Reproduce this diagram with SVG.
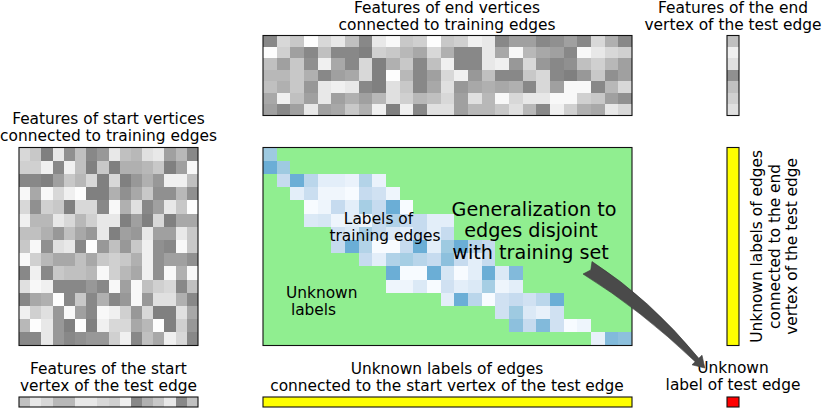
<svg xmlns="http://www.w3.org/2000/svg" width="822" height="409" viewBox="0 0 822 409">
<style>
text{font-family:"DejaVu Sans","Liberation Sans",sans-serif;font-size:15.4px;fill:#000}
.big{font-size:19.2px}
.mid{text-anchor:middle}
.frame{fill:none;stroke:#111;stroke-width:1.1}
.cells rect{shape-rendering:crispEdges}
.g80{fill:#808080}.g88{fill:#888}.g90{fill:#909090}.g98{fill:#989898}.ga0{fill:#a0a0a0}.ga8{fill:#a8a8a8}.gb0{fill:#b0b0b0}.gb8{fill:#b8b8b8}.gc0{fill:#c0c0c0}.gc8{fill:#c8c8c8}.gd0{fill:#d0d0d0}.gd8{fill:#d8d8d8}.ge0{fill:#e0e0e0}.ge8{fill:#e8e8e8}.gf0{fill:#f0f0f0}.gf8{fill:#f8f8f8}.gff{fill:#fdfdfd}
.arrow{fill:#4a4a4a;stroke:#3a3a3a;stroke-width:0.6}
</style>

<g id="end-features">
<text class="mid" x="447" y="12.5">Features of end vertices</text>
<text class="mid" x="447" y="29.5">connected to training edges</text>
<g class="cells" transform="translate(263,35.5) scale(13.667,11.4286)">
<rect x="0" y="0" width="1" height="1" class="g88"/><rect x="1" y="0" width="1" height="1" class="gd8"/><rect x="2" y="0" width="1" height="1" class="gc8"/><rect x="3" y="0" width="1" height="1" class="gff"/><rect x="4" y="0" width="1" height="1" class="gd8"/><rect x="5" y="0" width="1" height="1" class="ge8"/><rect x="6" y="0" width="1" height="1" class="gc0"/><rect x="7" y="0" width="1" height="1" class="g88"/><rect x="8" y="0" width="1" height="1" class="ge8"/><rect x="9" y="0" width="1" height="1" class="gf8"/><rect x="10" y="0" width="1" height="1" class="gc8"/><rect x="11" y="0" width="1" height="1" class="gd0"/><rect x="12" y="0" width="1" height="1" class="gff"/><rect x="13" y="0" width="1" height="1" class="gc8"/><rect x="14" y="0" width="1" height="1" class="gd0"/><rect x="15" y="0" width="1" height="1" class="gf0"/><rect x="16" y="0" width="1" height="1" class="ge8"/><rect x="17" y="0" width="1" height="1" class="g88"/><rect x="18" y="0" width="1" height="1" class="ga0"/><rect x="19" y="0" width="1" height="1" class="ga0"/><rect x="20" y="0" width="1" height="1" class="g88"/><rect x="21" y="0" width="1" height="1" class="g90"/><rect x="22" y="0" width="1" height="1" class="ga0"/><rect x="23" y="0" width="1" height="1" class="g88"/><rect x="24" y="0" width="1" height="1" class="gd8"/><rect x="25" y="0" width="1" height="1" class="gb0"/><rect x="26" y="0" width="1" height="1" class="g88"/>
<rect x="0" y="1" width="1" height="1" class="gff"/><rect x="1" y="1" width="1" height="1" class="gd0"/><rect x="2" y="1" width="1" height="1" class="ga0"/><rect x="3" y="1" width="1" height="1" class="g88"/><rect x="4" y="1" width="1" height="1" class="gc0"/><rect x="5" y="1" width="1" height="1" class="g88"/><rect x="6" y="1" width="1" height="1" class="g88"/><rect x="7" y="1" width="1" height="1" class="g80"/><rect x="8" y="1" width="1" height="1" class="gd0"/><rect x="9" y="1" width="1" height="1" class="gc8"/><rect x="10" y="1" width="1" height="1" class="gb8"/><rect x="11" y="1" width="1" height="1" class="ga8"/><rect x="12" y="1" width="1" height="1" class="gd8"/><rect x="13" y="1" width="1" height="1" class="gb0"/><rect x="14" y="1" width="1" height="1" class="g88"/><rect x="15" y="1" width="1" height="1" class="g88"/><rect x="16" y="1" width="1" height="1" class="ge8"/><rect x="17" y="1" width="1" height="1" class="ga8"/><rect x="18" y="1" width="1" height="1" class="gf8"/><rect x="19" y="1" width="1" height="1" class="gb8"/><rect x="20" y="1" width="1" height="1" class="ga8"/><rect x="21" y="1" width="1" height="1" class="ga0"/><rect x="22" y="1" width="1" height="1" class="g88"/><rect x="23" y="1" width="1" height="1" class="gf8"/><rect x="24" y="1" width="1" height="1" class="ge8"/><rect x="25" y="1" width="1" height="1" class="gd8"/><rect x="26" y="1" width="1" height="1" class="gd0"/>
<rect x="0" y="2" width="1" height="1" class="gc0"/><rect x="1" y="2" width="1" height="1" class="ga0"/><rect x="2" y="2" width="1" height="1" class="gc8"/><rect x="3" y="2" width="1" height="1" class="g90"/><rect x="4" y="2" width="1" height="1" class="gf0"/><rect x="5" y="2" width="1" height="1" class="ga8"/><rect x="6" y="2" width="1" height="1" class="g88"/><rect x="7" y="2" width="1" height="1" class="gd8"/><rect x="8" y="2" width="1" height="1" class="g80"/><rect x="9" y="2" width="1" height="1" class="gb0"/><rect x="10" y="2" width="1" height="1" class="gc8"/><rect x="11" y="2" width="1" height="1" class="g88"/><rect x="12" y="2" width="1" height="1" class="gc0"/><rect x="13" y="2" width="1" height="1" class="gf0"/><rect x="14" y="2" width="1" height="1" class="g88"/><rect x="15" y="2" width="1" height="1" class="g88"/><rect x="16" y="2" width="1" height="1" class="ge8"/><rect x="17" y="2" width="1" height="1" class="gf0"/><rect x="18" y="2" width="1" height="1" class="g98"/><rect x="19" y="2" width="1" height="1" class="gd8"/><rect x="20" y="2" width="1" height="1" class="g98"/><rect x="21" y="2" width="1" height="1" class="g88"/><rect x="22" y="2" width="1" height="1" class="g90"/><rect x="23" y="2" width="1" height="1" class="gc0"/><rect x="24" y="2" width="1" height="1" class="gd0"/><rect x="25" y="2" width="1" height="1" class="gb8"/><rect x="26" y="2" width="1" height="1" class="ga0"/>
<rect x="0" y="3" width="1" height="1" class="gb8"/><rect x="1" y="3" width="1" height="1" class="gb8"/><rect x="2" y="3" width="1" height="1" class="gc8"/><rect x="3" y="3" width="1" height="1" class="gb0"/><rect x="4" y="3" width="1" height="1" class="g88"/><rect x="5" y="3" width="1" height="1" class="ga0"/><rect x="6" y="3" width="1" height="1" class="ga8"/><rect x="7" y="3" width="1" height="1" class="gd8"/><rect x="8" y="3" width="1" height="1" class="g80"/><rect x="9" y="3" width="1" height="1" class="gff"/><rect x="10" y="3" width="1" height="1" class="gb8"/><rect x="11" y="3" width="1" height="1" class="g88"/><rect x="12" y="3" width="1" height="1" class="ga0"/><rect x="13" y="3" width="1" height="1" class="gd8"/><rect x="14" y="3" width="1" height="1" class="gf0"/><rect x="15" y="3" width="1" height="1" class="g98"/><rect x="16" y="3" width="1" height="1" class="gc0"/><rect x="17" y="3" width="1" height="1" class="g88"/><rect x="18" y="3" width="1" height="1" class="g88"/><rect x="19" y="3" width="1" height="1" class="gc8"/><rect x="20" y="3" width="1" height="1" class="gd8"/><rect x="21" y="3" width="1" height="1" class="g88"/><rect x="22" y="3" width="1" height="1" class="g80"/><rect x="23" y="3" width="1" height="1" class="g98"/><rect x="24" y="3" width="1" height="1" class="gc8"/><rect x="25" y="3" width="1" height="1" class="g90"/><rect x="26" y="3" width="1" height="1" class="ga0"/>
<rect x="0" y="4" width="1" height="1" class="gc0"/><rect x="1" y="4" width="1" height="1" class="gb0"/><rect x="2" y="4" width="1" height="1" class="gc8"/><rect x="3" y="4" width="1" height="1" class="g98"/><rect x="4" y="4" width="1" height="1" class="ge8"/><rect x="5" y="4" width="1" height="1" class="gf0"/><rect x="6" y="4" width="1" height="1" class="ge8"/><rect x="7" y="4" width="1" height="1" class="g88"/><rect x="8" y="4" width="1" height="1" class="g80"/><rect x="9" y="4" width="1" height="1" class="ge0"/><rect x="10" y="4" width="1" height="1" class="gc8"/><rect x="11" y="4" width="1" height="1" class="g88"/><rect x="12" y="4" width="1" height="1" class="ga8"/><rect x="13" y="4" width="1" height="1" class="ge0"/><rect x="14" y="4" width="1" height="1" class="g98"/><rect x="15" y="4" width="1" height="1" class="ga8"/><rect x="16" y="4" width="1" height="1" class="gb0"/><rect x="17" y="4" width="1" height="1" class="ga8"/><rect x="18" y="4" width="1" height="1" class="gb0"/><rect x="19" y="4" width="1" height="1" class="g88"/><rect x="20" y="4" width="1" height="1" class="gd8"/><rect x="21" y="4" width="1" height="1" class="ga0"/><rect x="22" y="4" width="1" height="1" class="gf8"/><rect x="23" y="4" width="1" height="1" class="gf8"/><rect x="24" y="4" width="1" height="1" class="g88"/><rect x="25" y="4" width="1" height="1" class="gb8"/><rect x="26" y="4" width="1" height="1" class="gd8"/>
<rect x="0" y="5" width="1" height="1" class="ga8"/><rect x="1" y="5" width="1" height="1" class="gf0"/><rect x="2" y="5" width="1" height="1" class="gc0"/><rect x="3" y="5" width="1" height="1" class="ga0"/><rect x="4" y="5" width="1" height="1" class="ge8"/><rect x="5" y="5" width="1" height="1" class="ga0"/><rect x="6" y="5" width="1" height="1" class="gb0"/><rect x="7" y="5" width="1" height="1" class="ga0"/><rect x="8" y="5" width="1" height="1" class="gb8"/><rect x="9" y="5" width="1" height="1" class="ge0"/><rect x="10" y="5" width="1" height="1" class="gd0"/><rect x="11" y="5" width="1" height="1" class="gb8"/><rect x="12" y="5" width="1" height="1" class="gc0"/><rect x="13" y="5" width="1" height="1" class="gd8"/><rect x="14" y="5" width="1" height="1" class="ga0"/><rect x="15" y="5" width="1" height="1" class="ge0"/><rect x="16" y="5" width="1" height="1" class="gb8"/><rect x="17" y="5" width="1" height="1" class="gf8"/><rect x="18" y="5" width="1" height="1" class="gd8"/><rect x="19" y="5" width="1" height="1" class="ge8"/><rect x="20" y="5" width="1" height="1" class="ge8"/><rect x="21" y="5" width="1" height="1" class="gf8"/><rect x="22" y="5" width="1" height="1" class="gf8"/><rect x="23" y="5" width="1" height="1" class="gd0"/><rect x="24" y="5" width="1" height="1" class="gc8"/><rect x="25" y="5" width="1" height="1" class="ga0"/><rect x="26" y="5" width="1" height="1" class="g90"/>
<rect x="0" y="6" width="1" height="1" class="ga0"/><rect x="1" y="6" width="1" height="1" class="g88"/><rect x="2" y="6" width="1" height="1" class="ga0"/><rect x="3" y="6" width="1" height="1" class="ge8"/><rect x="4" y="6" width="1" height="1" class="ga0"/><rect x="5" y="6" width="1" height="1" class="ga8"/><rect x="6" y="6" width="1" height="1" class="gc8"/><rect x="7" y="6" width="1" height="1" class="gb0"/><rect x="8" y="6" width="1" height="1" class="gf0"/><rect x="9" y="6" width="1" height="1" class="g80"/><rect x="10" y="6" width="1" height="1" class="gf0"/><rect x="11" y="6" width="1" height="1" class="g88"/><rect x="12" y="6" width="1" height="1" class="ge0"/><rect x="13" y="6" width="1" height="1" class="ge0"/><rect x="14" y="6" width="1" height="1" class="ga0"/><rect x="15" y="6" width="1" height="1" class="gb8"/><rect x="16" y="6" width="1" height="1" class="gb8"/><rect x="17" y="6" width="1" height="1" class="gc8"/><rect x="18" y="6" width="1" height="1" class="ge0"/><rect x="19" y="6" width="1" height="1" class="gb8"/><rect x="20" y="6" width="1" height="1" class="g88"/><rect x="21" y="6" width="1" height="1" class="gf0"/><rect x="22" y="6" width="1" height="1" class="gd0"/><rect x="23" y="6" width="1" height="1" class="gb0"/><rect x="24" y="6" width="1" height="1" class="ga8"/><rect x="25" y="6" width="1" height="1" class="ge8"/><rect x="26" y="6" width="1" height="1" class="gd8"/>
</g>
<rect class="frame" x="263" y="35.5" width="369" height="80"/>
</g>

<g id="end-vertex-features">
<text class="mid" x="733" y="12.5">Features of the end</text>
<text class="mid" x="733" y="29.5">vertex of the test edge</text>
<g class="cells" transform="translate(727,35.5) scale(12,11.4286)">
<rect x="0" y="0" width="1" height="1" class="gc0"/><rect x="0" y="1" width="1" height="1" class="gf0"/><rect x="0" y="2" width="1" height="1" class="ge0"/><rect x="0" y="3" width="1" height="1" class="g90"/><rect x="0" y="4" width="1" height="1" class="gc0"/><rect x="0" y="5" width="1" height="1" class="gd0"/><rect x="0" y="6" width="1" height="1" class="ge0"/>
</g>
<rect class="frame" x="727" y="35.5" width="12" height="80"/>
</g>

<g id="start-features">
<text class="mid" x="108.5" y="124">Features of start vertices</text>
<text class="mid" x="108.5" y="141">connected to training edges</text>
<g class="cells" transform="translate(19,147.5) scale(11.1875,13.2)">
<rect x="0" y="0" width="1" height="1" class="gd8"/><rect x="1" y="0" width="1" height="1" class="gc8"/><rect x="2" y="0" width="1" height="1" class="g80"/><rect x="3" y="0" width="1" height="1" class="ge8"/><rect x="4" y="0" width="1" height="1" class="g90"/><rect x="5" y="0" width="1" height="1" class="gc0"/><rect x="6" y="0" width="1" height="1" class="g88"/><rect x="7" y="0" width="1" height="1" class="g98"/><rect x="8" y="0" width="1" height="1" class="ge8"/><rect x="9" y="0" width="1" height="1" class="gc0"/><rect x="10" y="0" width="1" height="1" class="gb8"/><rect x="11" y="0" width="1" height="1" class="ge0"/><rect x="12" y="0" width="1" height="1" class="ge8"/><rect x="13" y="0" width="1" height="1" class="ga0"/><rect x="14" y="0" width="1" height="1" class="gb8"/><rect x="15" y="0" width="1" height="1" class="g88"/>
<rect x="0" y="1" width="1" height="1" class="gd0"/><rect x="1" y="1" width="1" height="1" class="gd0"/><rect x="2" y="1" width="1" height="1" class="gf0"/><rect x="3" y="1" width="1" height="1" class="g88"/><rect x="4" y="1" width="1" height="1" class="gf0"/><rect x="5" y="1" width="1" height="1" class="gc0"/><rect x="6" y="1" width="1" height="1" class="g80"/><rect x="7" y="1" width="1" height="1" class="gc8"/><rect x="8" y="1" width="1" height="1" class="g80"/><rect x="9" y="1" width="1" height="1" class="gb0"/><rect x="10" y="1" width="1" height="1" class="gb0"/><rect x="11" y="1" width="1" height="1" class="gb8"/><rect x="12" y="1" width="1" height="1" class="gc8"/><rect x="13" y="1" width="1" height="1" class="g80"/><rect x="14" y="1" width="1" height="1" class="ga0"/><rect x="15" y="1" width="1" height="1" class="gf8"/>
<rect x="0" y="2" width="1" height="1" class="g88"/><rect x="1" y="2" width="1" height="1" class="g88"/><rect x="2" y="2" width="1" height="1" class="g80"/><rect x="3" y="2" width="1" height="1" class="ga0"/><rect x="4" y="2" width="1" height="1" class="gc8"/><rect x="5" y="2" width="1" height="1" class="gb8"/><rect x="6" y="2" width="1" height="1" class="gd8"/><rect x="7" y="2" width="1" height="1" class="g80"/><rect x="8" y="2" width="1" height="1" class="gd8"/><rect x="9" y="2" width="1" height="1" class="g80"/><rect x="10" y="2" width="1" height="1" class="g98"/><rect x="11" y="2" width="1" height="1" class="gb0"/><rect x="12" y="2" width="1" height="1" class="g98"/><rect x="13" y="2" width="1" height="1" class="gf0"/><rect x="14" y="2" width="1" height="1" class="gf0"/><rect x="15" y="2" width="1" height="1" class="gc0"/>
<rect x="0" y="3" width="1" height="1" class="gf8"/><rect x="1" y="3" width="1" height="1" class="ga8"/><rect x="2" y="3" width="1" height="1" class="gf8"/><rect x="3" y="3" width="1" height="1" class="gd8"/><rect x="4" y="3" width="1" height="1" class="gf0"/><rect x="5" y="3" width="1" height="1" class="gff"/><rect x="6" y="3" width="1" height="1" class="g80"/><rect x="7" y="3" width="1" height="1" class="g80"/><rect x="8" y="3" width="1" height="1" class="gb0"/><rect x="9" y="3" width="1" height="1" class="g90"/><rect x="10" y="3" width="1" height="1" class="ga8"/><rect x="11" y="3" width="1" height="1" class="gc8"/><rect x="12" y="3" width="1" height="1" class="g90"/><rect x="13" y="3" width="1" height="1" class="g90"/><rect x="14" y="3" width="1" height="1" class="gb8"/><rect x="15" y="3" width="1" height="1" class="g90"/>
<rect x="0" y="4" width="1" height="1" class="gd8"/><rect x="1" y="4" width="1" height="1" class="g90"/><rect x="2" y="4" width="1" height="1" class="gd0"/><rect x="3" y="4" width="1" height="1" class="gc8"/><rect x="4" y="4" width="1" height="1" class="g80"/><rect x="5" y="4" width="1" height="1" class="gd8"/><rect x="6" y="4" width="1" height="1" class="gd8"/><rect x="7" y="4" width="1" height="1" class="g88"/><rect x="8" y="4" width="1" height="1" class="gf8"/><rect x="9" y="4" width="1" height="1" class="gb0"/><rect x="10" y="4" width="1" height="1" class="ge0"/><rect x="11" y="4" width="1" height="1" class="g88"/><rect x="12" y="4" width="1" height="1" class="ga0"/><rect x="13" y="4" width="1" height="1" class="ge8"/><rect x="14" y="4" width="1" height="1" class="gc8"/><rect x="15" y="4" width="1" height="1" class="gff"/>
<rect x="0" y="5" width="1" height="1" class="gf0"/><rect x="1" y="5" width="1" height="1" class="gb8"/><rect x="2" y="5" width="1" height="1" class="gb8"/><rect x="3" y="5" width="1" height="1" class="ge8"/><rect x="4" y="5" width="1" height="1" class="gd8"/><rect x="5" y="5" width="1" height="1" class="gb8"/><rect x="6" y="5" width="1" height="1" class="gd0"/><rect x="7" y="5" width="1" height="1" class="ge8"/><rect x="8" y="5" width="1" height="1" class="ge8"/><rect x="9" y="5" width="1" height="1" class="g80"/><rect x="10" y="5" width="1" height="1" class="ga0"/><rect x="11" y="5" width="1" height="1" class="g80"/><rect x="12" y="5" width="1" height="1" class="gd8"/><rect x="13" y="5" width="1" height="1" class="g80"/><rect x="14" y="5" width="1" height="1" class="ga8"/><rect x="15" y="5" width="1" height="1" class="ga8"/>
<rect x="0" y="6" width="1" height="1" class="gc0"/><rect x="1" y="6" width="1" height="1" class="gc0"/><rect x="2" y="6" width="1" height="1" class="gb0"/><rect x="3" y="6" width="1" height="1" class="g98"/><rect x="4" y="6" width="1" height="1" class="gc0"/><rect x="5" y="6" width="1" height="1" class="ga8"/><rect x="6" y="6" width="1" height="1" class="g98"/><rect x="7" y="6" width="1" height="1" class="ge8"/><rect x="8" y="6" width="1" height="1" class="g80"/><rect x="9" y="6" width="1" height="1" class="ga0"/><rect x="10" y="6" width="1" height="1" class="g98"/><rect x="11" y="6" width="1" height="1" class="ge8"/><rect x="12" y="6" width="1" height="1" class="ga0"/><rect x="13" y="6" width="1" height="1" class="ga0"/><rect x="14" y="6" width="1" height="1" class="ge8"/><rect x="15" y="6" width="1" height="1" class="gc8"/>
<rect x="0" y="7" width="1" height="1" class="gc8"/><rect x="1" y="7" width="1" height="1" class="gf8"/><rect x="2" y="7" width="1" height="1" class="g90"/><rect x="3" y="7" width="1" height="1" class="ge0"/><rect x="4" y="7" width="1" height="1" class="ge8"/><rect x="5" y="7" width="1" height="1" class="g88"/><rect x="6" y="7" width="1" height="1" class="gff"/><rect x="7" y="7" width="1" height="1" class="g98"/><rect x="8" y="7" width="1" height="1" class="gc0"/><rect x="9" y="7" width="1" height="1" class="g98"/><rect x="10" y="7" width="1" height="1" class="gc8"/><rect x="11" y="7" width="1" height="1" class="gf0"/><rect x="12" y="7" width="1" height="1" class="g90"/><rect x="13" y="7" width="1" height="1" class="g88"/><rect x="14" y="7" width="1" height="1" class="gf8"/><rect x="15" y="7" width="1" height="1" class="gc8"/>
<rect x="0" y="8" width="1" height="1" class="gf8"/><rect x="1" y="8" width="1" height="1" class="gd0"/><rect x="2" y="8" width="1" height="1" class="gb8"/><rect x="3" y="8" width="1" height="1" class="ga8"/><rect x="4" y="8" width="1" height="1" class="ga8"/><rect x="5" y="8" width="1" height="1" class="gc0"/><rect x="6" y="8" width="1" height="1" class="ga8"/><rect x="7" y="8" width="1" height="1" class="gc8"/><rect x="8" y="8" width="1" height="1" class="gd0"/><rect x="9" y="8" width="1" height="1" class="gc8"/><rect x="10" y="8" width="1" height="1" class="gb0"/><rect x="11" y="8" width="1" height="1" class="gf0"/><rect x="12" y="8" width="1" height="1" class="g90"/><rect x="13" y="8" width="1" height="1" class="ga0"/><rect x="14" y="8" width="1" height="1" class="ga0"/><rect x="15" y="8" width="1" height="1" class="g90"/>
<rect x="0" y="9" width="1" height="1" class="g88"/><rect x="1" y="9" width="1" height="1" class="gf0"/><rect x="2" y="9" width="1" height="1" class="g88"/><rect x="3" y="9" width="1" height="1" class="gc8"/><rect x="4" y="9" width="1" height="1" class="gc0"/><rect x="5" y="9" width="1" height="1" class="gc0"/><rect x="6" y="9" width="1" height="1" class="gb8"/><rect x="7" y="9" width="1" height="1" class="gf8"/><rect x="8" y="9" width="1" height="1" class="gd0"/><rect x="9" y="9" width="1" height="1" class="gb8"/><rect x="10" y="9" width="1" height="1" class="ga8"/><rect x="11" y="9" width="1" height="1" class="gf0"/><rect x="12" y="9" width="1" height="1" class="g90"/><rect x="13" y="9" width="1" height="1" class="gf8"/><rect x="14" y="9" width="1" height="1" class="gb0"/><rect x="15" y="9" width="1" height="1" class="gf8"/>
<rect x="0" y="10" width="1" height="1" class="ge0"/><rect x="1" y="10" width="1" height="1" class="gf8"/><rect x="2" y="10" width="1" height="1" class="gf0"/><rect x="3" y="10" width="1" height="1" class="g88"/><rect x="4" y="10" width="1" height="1" class="g88"/><rect x="5" y="10" width="1" height="1" class="g88"/><rect x="6" y="10" width="1" height="1" class="g98"/><rect x="7" y="10" width="1" height="1" class="g88"/><rect x="8" y="10" width="1" height="1" class="gf8"/><rect x="9" y="10" width="1" height="1" class="ga0"/><rect x="10" y="10" width="1" height="1" class="gf8"/><rect x="11" y="10" width="1" height="1" class="gc0"/><rect x="12" y="10" width="1" height="1" class="gd0"/><rect x="13" y="10" width="1" height="1" class="gd8"/><rect x="14" y="10" width="1" height="1" class="g88"/><rect x="15" y="10" width="1" height="1" class="gc0"/>
<rect x="0" y="11" width="1" height="1" class="g88"/><rect x="1" y="11" width="1" height="1" class="ga8"/><rect x="2" y="11" width="1" height="1" class="gb0"/><rect x="3" y="11" width="1" height="1" class="gff"/><rect x="4" y="11" width="1" height="1" class="g88"/><rect x="5" y="11" width="1" height="1" class="gc8"/><rect x="6" y="11" width="1" height="1" class="g88"/><rect x="7" y="11" width="1" height="1" class="gb0"/><rect x="8" y="11" width="1" height="1" class="g88"/><rect x="9" y="11" width="1" height="1" class="g98"/><rect x="10" y="11" width="1" height="1" class="gf8"/><rect x="11" y="11" width="1" height="1" class="g98"/><rect x="12" y="11" width="1" height="1" class="ge0"/><rect x="13" y="11" width="1" height="1" class="ge0"/><rect x="14" y="11" width="1" height="1" class="gb0"/><rect x="15" y="11" width="1" height="1" class="g88"/>
<rect x="0" y="12" width="1" height="1" class="gf0"/><rect x="1" y="12" width="1" height="1" class="gd0"/><rect x="2" y="12" width="1" height="1" class="ge0"/><rect x="3" y="12" width="1" height="1" class="g98"/><rect x="4" y="12" width="1" height="1" class="gf8"/><rect x="5" y="12" width="1" height="1" class="ga0"/><rect x="6" y="12" width="1" height="1" class="g88"/><rect x="7" y="12" width="1" height="1" class="gf8"/><rect x="8" y="12" width="1" height="1" class="gf0"/><rect x="9" y="12" width="1" height="1" class="gd0"/><rect x="10" y="12" width="1" height="1" class="g98"/><rect x="11" y="12" width="1" height="1" class="gd8"/><rect x="12" y="12" width="1" height="1" class="g80"/><rect x="13" y="12" width="1" height="1" class="g80"/><rect x="14" y="12" width="1" height="1" class="ge0"/><rect x="15" y="12" width="1" height="1" class="ga8"/>
<rect x="0" y="13" width="1" height="1" class="gb8"/><rect x="1" y="13" width="1" height="1" class="gff"/><rect x="2" y="13" width="1" height="1" class="ge8"/><rect x="3" y="13" width="1" height="1" class="g98"/><rect x="4" y="13" width="1" height="1" class="g80"/><rect x="5" y="13" width="1" height="1" class="gff"/><rect x="6" y="13" width="1" height="1" class="g80"/><rect x="7" y="13" width="1" height="1" class="gf0"/><rect x="8" y="13" width="1" height="1" class="gd8"/><rect x="9" y="13" width="1" height="1" class="gd8"/><rect x="10" y="13" width="1" height="1" class="ga8"/><rect x="11" y="13" width="1" height="1" class="gb8"/><rect x="12" y="13" width="1" height="1" class="gff"/><rect x="13" y="13" width="1" height="1" class="g80"/><rect x="14" y="13" width="1" height="1" class="gd0"/><rect x="15" y="13" width="1" height="1" class="g98"/>
<rect x="0" y="14" width="1" height="1" class="g88"/><rect x="1" y="14" width="1" height="1" class="g88"/><rect x="2" y="14" width="1" height="1" class="ge8"/><rect x="3" y="14" width="1" height="1" class="g98"/><rect x="4" y="14" width="1" height="1" class="g88"/><rect x="5" y="14" width="1" height="1" class="g90"/><rect x="6" y="14" width="1" height="1" class="g98"/><rect x="7" y="14" width="1" height="1" class="g98"/><rect x="8" y="14" width="1" height="1" class="gd0"/><rect x="9" y="14" width="1" height="1" class="gf0"/><rect x="10" y="14" width="1" height="1" class="g88"/><rect x="11" y="14" width="1" height="1" class="gc0"/><rect x="12" y="14" width="1" height="1" class="ga8"/><rect x="13" y="14" width="1" height="1" class="gf0"/><rect x="14" y="14" width="1" height="1" class="gd8"/><rect x="15" y="14" width="1" height="1" class="g88"/>
</g>
<rect class="frame" x="19" y="147.5" width="179" height="198"/>
</g>

<g id="label-matrix">
<rect x="263" y="147.5" width="369" height="198" fill="#90ee90"/>
<g class="cells" transform="translate(263,147.5) scale(13.667,13.2)">
<rect x="0" y="0" width="1" height="1" fill="#9ecae1"/>
<rect x="0" y="1" width="1" height="1" fill="#6baed6"/><rect x="1" y="1" width="1" height="1" fill="#9ecae1"/>
<rect x="1" y="2" width="1" height="1" fill="#c6dbef"/><rect x="2" y="2" width="1" height="1" fill="#6baed6"/><rect x="3" y="2" width="1" height="1" fill="#bad6eb"/><rect x="4" y="2" width="1" height="1" fill="#e3eef9"/><rect x="5" y="2" width="1" height="1" fill="#e3eef9"/><rect x="6" y="2" width="1" height="1" fill="#eaf2fb"/><rect x="7" y="2" width="1" height="1" fill="#b3d3e8"/><rect x="8" y="2" width="1" height="1" fill="#eaf2fb"/>
<rect x="2" y="3" width="1" height="1" fill="#e3eef9"/><rect x="3" y="3" width="1" height="1" fill="#cadef0"/><rect x="4" y="3" width="1" height="1" fill="#f0f6fc"/><rect x="5" y="3" width="1" height="1" fill="#f0f6fc"/><rect x="6" y="3" width="1" height="1" fill="#f7fbff"/><rect x="7" y="3" width="1" height="1" fill="#c6dbef"/><rect x="8" y="3" width="1" height="1" fill="#d0e1f2"/><rect x="9" y="3" width="1" height="1" fill="#eef5fc"/>
<rect x="3" y="4" width="1" height="1" fill="#f7fbff"/><rect x="4" y="4" width="1" height="1" fill="#eef5fc"/><rect x="5" y="4" width="1" height="1" fill="#c6dbef"/><rect x="6" y="4" width="1" height="1" fill="#e3eef9"/><rect x="7" y="4" width="1" height="1" fill="#a6cee4"/><rect x="8" y="4" width="1" height="1" fill="#c6dbef"/><rect x="9" y="4" width="1" height="1" fill="#6baed6"/><rect x="10" y="4" width="1" height="1" fill="#f7fbff"/>
<rect x="3" y="5" width="1" height="1" fill="#dbe9f6"/><rect x="4" y="5" width="1" height="1" fill="#d6e6f4"/><rect x="5" y="5" width="1" height="1" fill="#eef5fc"/><rect x="6" y="5" width="1" height="1" fill="#e3eef9"/><rect x="7" y="5" width="1" height="1" fill="#eef5fc"/><rect x="8" y="5" width="1" height="1" fill="#c6dbef"/><rect x="9" y="5" width="1" height="1" fill="#b0d2e8"/><rect x="10" y="5" width="1" height="1" fill="#c6dbef"/><rect x="11" y="5" width="1" height="1" fill="#c6dbef"/><rect x="12" y="5" width="1" height="1" fill="#e3eef9"/><rect x="13" y="5" width="1" height="1" fill="#e3eef9"/>
<rect x="5" y="6" width="1" height="1" fill="#d0e1f2"/><rect x="6" y="6" width="1" height="1" fill="#dbe9f6"/><rect x="7" y="6" width="1" height="1" fill="#a6cee4"/><rect x="8" y="6" width="1" height="1" fill="#c6dbef"/><rect x="9" y="6" width="1" height="1" fill="#dbe9f6"/><rect x="10" y="6" width="1" height="1" fill="#e3eef9"/><rect x="11" y="6" width="1" height="1" fill="#c6dbef"/><rect x="12" y="6" width="1" height="1" fill="#e3eef9"/><rect x="13" y="6" width="1" height="1" fill="#c6dbef"/>
<rect x="5" y="7" width="1" height="1" fill="#c6dbef"/><rect x="6" y="7" width="1" height="1" fill="#6baed6"/><rect x="7" y="7" width="1" height="1" fill="#b3d3e8"/><rect x="8" y="7" width="1" height="1" fill="#f7fbff"/><rect x="9" y="7" width="1" height="1" fill="#f7fbff"/><rect x="10" y="7" width="1" height="1" fill="#c6dbef"/><rect x="11" y="7" width="1" height="1" fill="#6baed6"/><rect x="12" y="7" width="1" height="1" fill="#e3eef9"/><rect x="13" y="7" width="1" height="1" fill="#9ecae1"/><rect x="14" y="7" width="1" height="1" fill="#6baed6"/><rect x="15" y="7" width="1" height="1" fill="#bad6eb"/><rect x="16" y="7" width="1" height="1" fill="#c6dbef"/>
<rect x="7" y="8" width="1" height="1" fill="#c6dbef"/><rect x="8" y="8" width="1" height="1" fill="#e3eef9"/><rect x="9" y="8" width="1" height="1" fill="#b0d2e8"/><rect x="10" y="8" width="1" height="1" fill="#a6cee4"/><rect x="11" y="8" width="1" height="1" fill="#b8d5ea"/><rect x="12" y="8" width="1" height="1" fill="#c6dbef"/><rect x="13" y="8" width="1" height="1" fill="#8dc0dd"/><rect x="14" y="8" width="1" height="1" fill="#c6dbef"/><rect x="15" y="8" width="1" height="1" fill="#e3eef9"/><rect x="16" y="8" width="1" height="1" fill="#c6dbef"/>
<rect x="9" y="9" width="1" height="1" fill="#6baed6"/><rect x="10" y="9" width="1" height="1" fill="#f7fbff"/><rect x="11" y="9" width="1" height="1" fill="#f7fbff"/><rect x="12" y="9" width="1" height="1" fill="#6baed6"/><rect x="13" y="9" width="1" height="1" fill="#d6e6f4"/><rect x="14" y="9" width="1" height="1" fill="#f7fbff"/><rect x="15" y="9" width="1" height="1" fill="#e3eef9"/><rect x="16" y="9" width="1" height="1" fill="#6baed6"/><rect x="17" y="9" width="1" height="1" fill="#dbe9f6"/><rect x="18" y="9" width="1" height="1" fill="#82badb"/>
<rect x="9" y="10" width="1" height="1" fill="#eef5fc"/><rect x="10" y="10" width="1" height="1" fill="#eef5fc"/><rect x="11" y="10" width="1" height="1" fill="#dbe9f6"/><rect x="12" y="10" width="1" height="1" fill="#f7fbff"/><rect x="13" y="10" width="1" height="1" fill="#d0e1f2"/><rect x="14" y="10" width="1" height="1" fill="#e3eef9"/><rect x="15" y="10" width="1" height="1" fill="#dbe9f6"/><rect x="16" y="10" width="1" height="1" fill="#a6cee4"/><rect x="17" y="10" width="1" height="1" fill="#eef5fc"/><rect x="18" y="10" width="1" height="1" fill="#e3eef9"/>
<rect x="13" y="11" width="1" height="1" fill="#e3eef9"/><rect x="14" y="11" width="1" height="1" fill="#6baed6"/><rect x="15" y="11" width="1" height="1" fill="#bad6eb"/><rect x="16" y="11" width="1" height="1" fill="#f7fbff"/><rect x="17" y="11" width="1" height="1" fill="#d0e1f2"/><rect x="18" y="11" width="1" height="1" fill="#c6dbef"/><rect x="19" y="11" width="1" height="1" fill="#d0e1f2"/><rect x="20" y="11" width="1" height="1" fill="#bad6eb"/><rect x="21" y="11" width="1" height="1" fill="#6baed6"/>
<rect x="17" y="12" width="1" height="1" fill="#d0e1f2"/><rect x="18" y="12" width="1" height="1" fill="#9ecae1"/><rect x="19" y="12" width="1" height="1" fill="#dbe9f6"/><rect x="20" y="12" width="1" height="1" fill="#e8f1fa"/><rect x="21" y="12" width="1" height="1" fill="#d0e1f2"/>
<rect x="18" y="13" width="1" height="1" fill="#8dc0dd"/><rect x="19" y="13" width="1" height="1" fill="#c6dbef"/><rect x="20" y="13" width="1" height="1" fill="#82badb"/><rect x="21" y="13" width="1" height="1" fill="#d0e1f2"/><rect x="22" y="13" width="1" height="1" fill="#f7fbff"/><rect x="23" y="13" width="1" height="1" fill="#eef5fc"/>
<rect x="24" y="14" width="1" height="1" fill="#e8f1fa"/><rect x="25" y="14" width="1" height="1" fill="#82badb"/><rect x="26" y="14" width="1" height="1" fill="#8dc0dd"/>
</g>
<rect class="frame" x="263" y="147.5" width="369" height="198"/>
<text class="mid" x="378.5" y="224">Labels of</text>
<text class="mid" x="385" y="240.5">training edges</text>
<text class="mid" x="321.7" y="298">Unknown</text>
<text class="mid" x="313.5" y="314.5">labels</text>
<text class="mid big" x="534" y="215.5">Generalization to</text>
<text class="mid big" x="531" y="237">edges disjoint</text>
<text class="mid big" x="530.5" y="258.5">with training set</text>
</g>

<g id="end-unknown-labels">
<rect x="727" y="147.5" width="12" height="198" fill="#ffff00" stroke="#111" stroke-width="1.1"/>
<text class="mid" transform="translate(762,246.4) rotate(-90)">Unknown labels of edges</text>
<text class="mid" transform="translate(779.5,246.4) rotate(-90)">connected to the end</text>
<text class="mid" transform="translate(797,246.4) rotate(-90)">vertex of the test edge</text>
</g>

<g id="start-vertex-features">
<text class="mid" x="108.5" y="374">Features of the start</text>
<text class="mid" x="108.5" y="391">vertex of the test edge</text>
<g class="cells" transform="translate(19,397) scale(11.1875,10)">
<rect x="0" y="0" width="1" height="1" class="gc0"/><rect x="1" y="0" width="1" height="1" class="ge8"/><rect x="2" y="0" width="1" height="1" class="gd8"/><rect x="3" y="0" width="1" height="1" class="gb8"/><rect x="4" y="0" width="1" height="1" class="gb8"/><rect x="5" y="0" width="1" height="1" class="ge8"/><rect x="6" y="0" width="1" height="1" class="ge8"/><rect x="7" y="0" width="1" height="1" class="gd8"/><rect x="8" y="0" width="1" height="1" class="gd0"/><rect x="9" y="0" width="1" height="1" class="gf0"/><rect x="10" y="0" width="1" height="1" class="g88"/><rect x="11" y="0" width="1" height="1" class="gb0"/><rect x="12" y="0" width="1" height="1" class="gc8"/><rect x="13" y="0" width="1" height="1" class="ge8"/><rect x="14" y="0" width="1" height="1" class="g88"/><rect x="15" y="0" width="1" height="1" class="gc0"/>
</g>
<rect class="frame" x="19" y="397" width="179" height="10"/>
</g>

<g id="start-unknown-labels">
<text class="mid" x="447" y="374">Unknown labels of edges</text>
<text class="mid" x="447" y="391">connected to the start vertex of the test edge</text>
<rect x="263" y="397" width="369" height="10" fill="#ffff00" stroke="#111" stroke-width="1.1"/>
</g>

<g id="test-edge-label">
<text class="mid" x="733" y="373">Unknown</text>
<text class="mid" x="733" y="390">label of test edge</text>
<rect x="727" y="397" width="12" height="10" fill="#ff0000" stroke="#111" stroke-width="1.1"/>
</g>

<g id="connectors">
<path class="arrow" d="M592 261.5 Q650 299 698.8 358.3 L702 355.2 L704.8 368 L692 364.8 L695.2 361.7 Q641 310 583 274 L590.8 270 Z"/>
</g>
</svg>
